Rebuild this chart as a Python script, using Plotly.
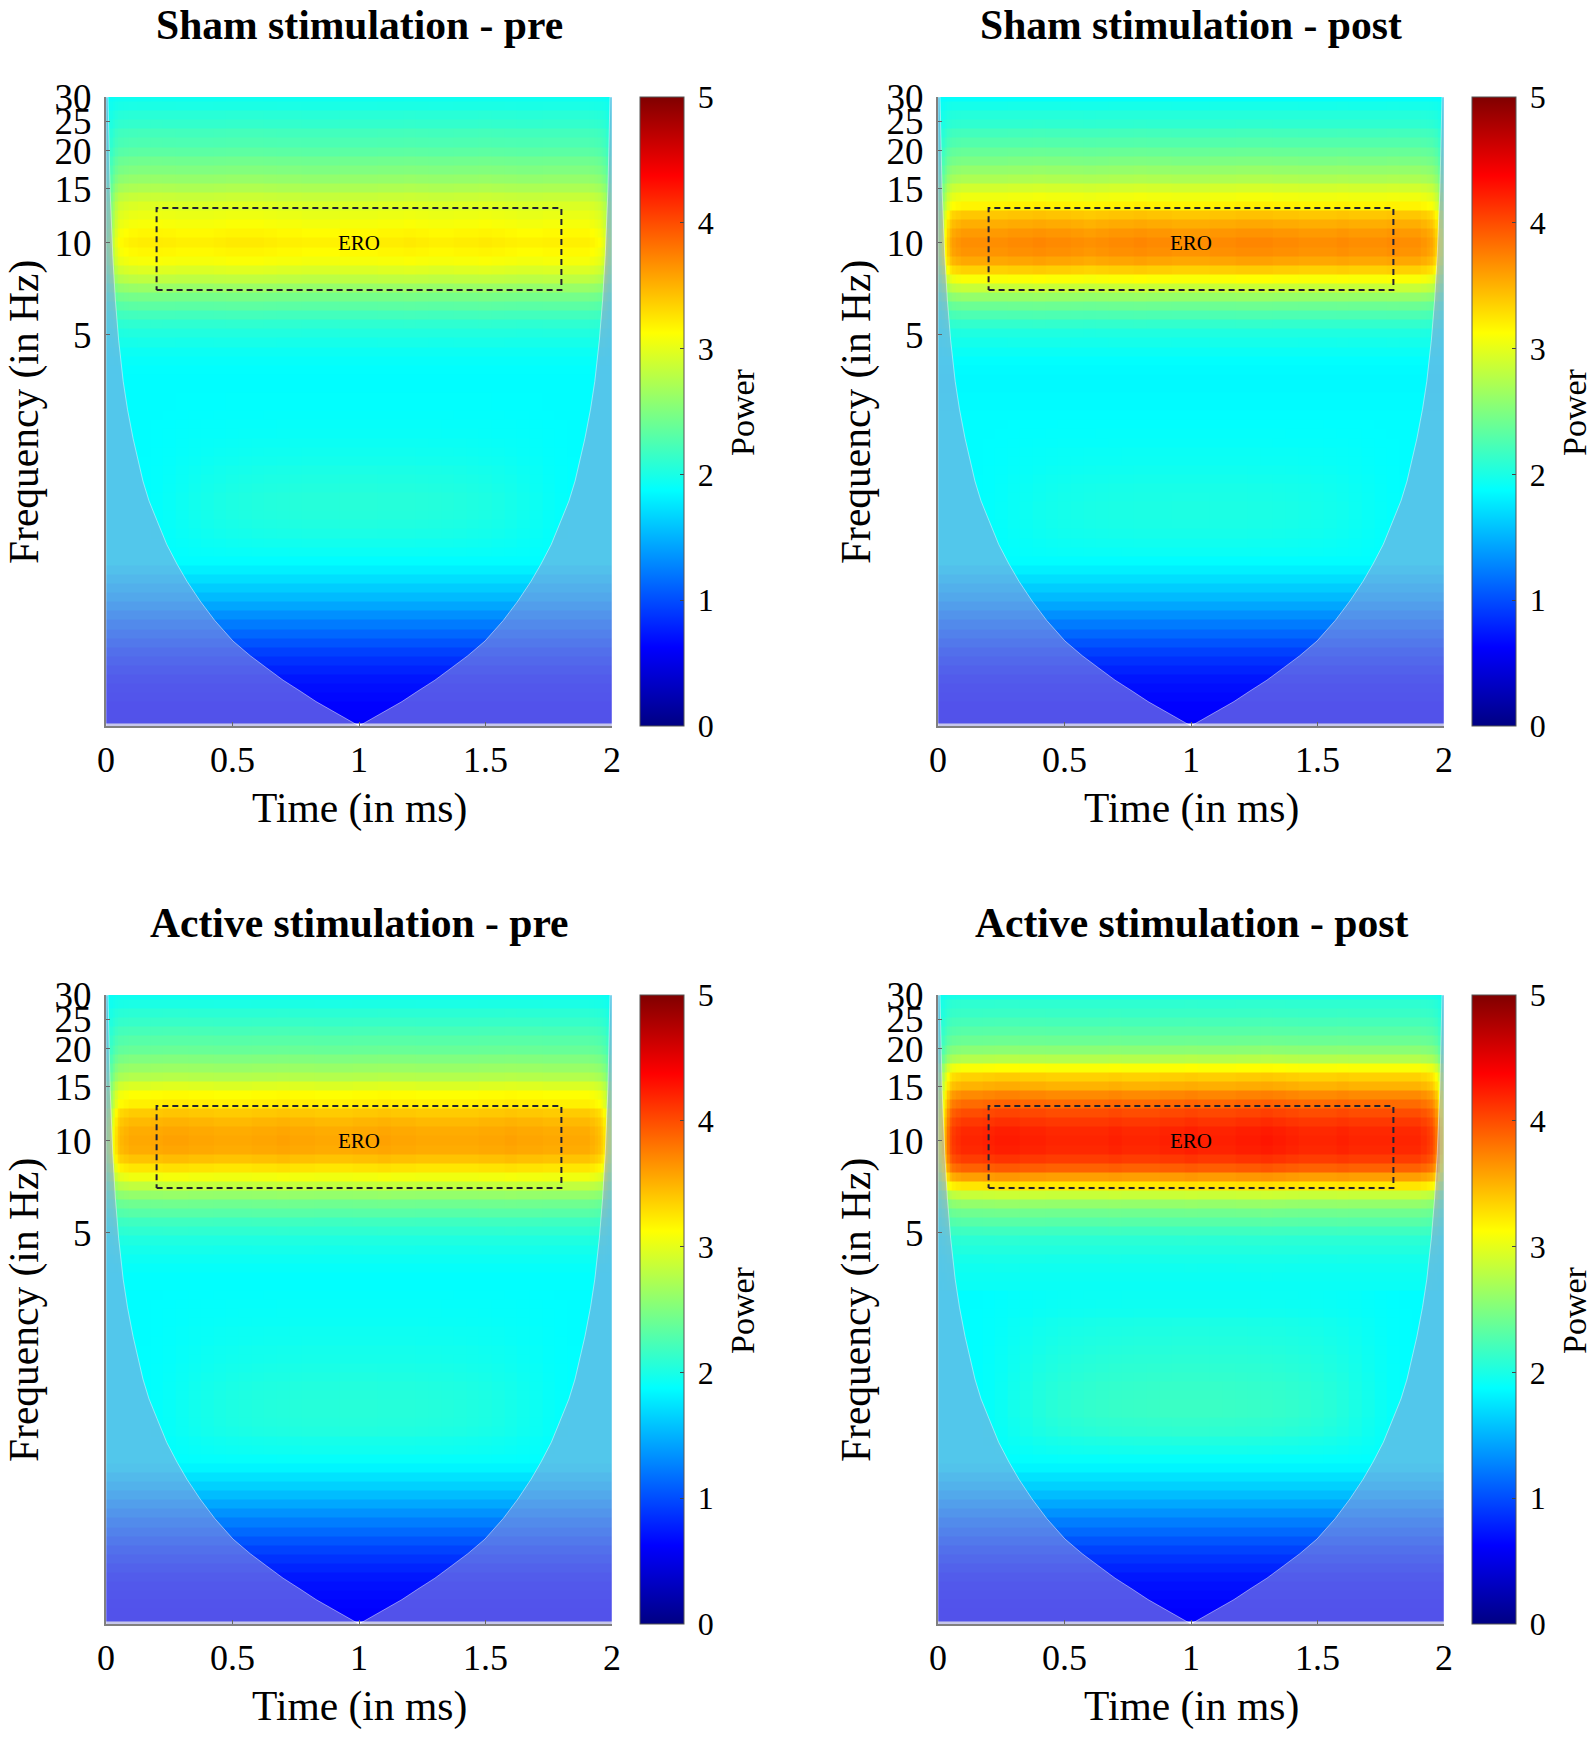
import numpy as np
import plotly.graph_objects as go

FAMILY = "Liberation Serif"
W, H = 1595, 1738

panel_titles = ["Sham stimulation - pre", "Sham stimulation - post",
                "Active stimulation - pre", "Active stimulation - post"]

# frequency rows, top of the plot first (Hz)
freq_rows = [30.0, 28.02, 26.16, 24.43, 22.81, 21.3, 19.89, 18.57, 17.34, 16.19,
             15.12, 14.12, 13.18, 12.31, 11.5, 10.73, 10.02, 9.36, 8.74, 8.161,
             7.62, 7.115, 6.644, 6.204, 5.793, 5.409, 5.051, 4.716, 4.404, 4.112,
             3.84, 3.585, 3.348, 3.126, 2.919, 2.725, 2.545, 2.376, 2.219, 2.072,
             1.935, 1.806, 1.687, 1.575, 1.471, 1.373, 1.282, 1.197, 1.118, 1.044,
             0.9748, 0.9102, 0.8499, 0.7936, 0.741, 0.6919, 0.6461, 0.6033, 0.5633, 0.526,
             0.4911, 0.4586, 0.4282, 0.3998, 0.3733, 0.3486, 0.3255, 0.304, 0.284, 0.272]

sham_pre = [1.95, 2.0, 2.07, 2.12, 2.2, 2.25, 2.32, 2.42, 2.5, 2.6,
            2.72, 2.85, 2.95, 3.02, 3.08, 3.15, 3.2, 3.15, 3.08, 2.95,
            2.8, 2.62, 2.45, 2.32, 2.2, 2.1, 2.03, 1.98, 1.93, 1.9,
            1.88, 1.87, 1.87, 1.88, 1.88, 1.89, 1.9, 1.91, 1.93, 1.95,
            1.97, 2.0, 2.02, 2.04, 2.06, 2.06, 2.05, 2.03, 2.0, 1.96,
            1.92, 1.87, 1.8, 1.72, 1.63, 1.54, 1.44, 1.33, 1.23, 1.13,
            1.03, 0.94, 0.86, 0.79, 0.73, 0.69, 0.66, 0.63, 0.61, 0.6]
sham_post = [1.9, 1.98, 2.05, 2.1, 2.2, 2.28, 2.38, 2.48, 2.6, 2.72,
             2.9, 3.05, 3.18, 3.4, 3.52, 3.62, 3.68, 3.65, 3.55, 3.35,
             3.1, 2.85, 2.6, 2.4, 2.25, 2.12, 2.02, 1.97, 1.92, 1.88,
             1.86, 1.85, 1.85, 1.86, 1.86, 1.87, 1.88, 1.89, 1.9, 1.92,
             1.93, 1.95, 1.97, 1.99, 2.0, 2.01, 2.01, 2.0, 1.98, 1.95,
             1.92, 1.87, 1.8, 1.72, 1.63, 1.54, 1.44, 1.33, 1.23, 1.13,
             1.03, 0.94, 0.86, 0.79, 0.73, 0.69, 0.66, 0.63, 0.61, 0.6]
active_pre = [1.95, 2.0, 2.08, 2.14, 2.22, 2.3, 2.38, 2.5, 2.62, 2.75,
              2.95, 3.12, 3.2, 3.38, 3.47, 3.53, 3.55, 3.53, 3.42, 3.25,
              3.05, 2.82, 2.6, 2.42, 2.3, 2.18, 2.1, 2.02, 1.97, 1.93,
              1.9, 1.88, 1.88, 1.89, 1.9, 1.91, 1.92, 1.94, 1.95, 1.97,
              1.98, 2.0, 2.02, 2.04, 2.05, 2.06, 2.06, 2.05, 2.03, 1.98,
              1.95, 1.9, 1.83, 1.74, 1.65, 1.55, 1.45, 1.34, 1.24, 1.14,
              1.04, 0.95, 0.87, 0.8, 0.74, 0.7, 0.67, 0.64, 0.62, 0.61]
active_post = [2.0, 2.1, 2.15, 2.22, 2.3, 2.4, 2.55, 2.75, 3.1, 3.35,
               3.5, 3.7, 3.85, 4.0, 4.1, 4.18, 4.2, 4.18, 4.08, 3.9,
               3.6, 3.25, 2.85, 2.6, 2.42, 2.3, 2.18, 2.08, 2.03, 1.98,
               1.95, 1.93, 1.92, 1.93, 1.94, 1.96, 2.0, 2.02, 2.04, 2.06,
               2.08, 2.1, 2.12, 2.14, 2.15, 2.16, 2.16, 2.13, 2.1, 2.03,
               1.97, 1.9, 1.83, 1.74, 1.65, 1.55, 1.45, 1.34, 1.24, 1.14,
               1.04, 0.95, 0.87, 0.8, 0.74, 0.7, 0.67, 0.64, 0.62, 0.61]
panel_power = [sham_pre, sham_post, active_pre, active_post]

time_cols = [0, 0.01, 0.02, 0.03, 0.04, 0.05, 0.06, 0.08, 0.1, 0.15, 0.2, 0.25, 0.3, 0.35, 0.4, 0.45, 0.5,
             0.55, 0.6, 0.65, 0.7, 0.75, 0.8, 0.85, 0.9, 0.95, 1.0, 1.05, 1.1, 1.15, 1.2, 1.25, 1.3, 1.35,
             1.4, 1.45, 1.5, 1.55, 1.6, 1.65, 1.7, 1.75, 1.8, 1.85, 1.9, 1.92, 1.94, 1.95, 1.96, 1.97, 1.98, 1.99, 2]

# how much of the band survives towards the edges, above about 3.3 Hz
edge_gain = [0.45, 0.5, 0.6, 0.72, 0.84, 0.92, 0.96, 0.98, 1, 1, 1, 1, 1, 1, 1, 1, 1,
             1, 1, 1, 1, 1, 1, 1, 1, 1, 1, 1, 1, 1, 1, 1, 1, 1,
             1, 1, 1, 1, 1, 1, 1, 1, 1, 1, 1, 0.98, 0.96, 0.94, 0.9, 0.84, 0.72, 0.6, 0.5]
# same thing for the slow rows, where the teal patch fades out towards the cone
low_gain = [0, 0, 0, 0, 0, 0, 0, 0, 0, 0.03, 0.1, 0.2, 0.33, 0.46, 0.58, 0.67, 0.75,
            0.81, 0.86, 0.9, 0.93, 0.95, 0.97, 0.98, 0.99, 1, 1, 1, 0.99, 0.98, 0.97, 0.95, 0.93, 0.9,
            0.86, 0.81, 0.75, 0.67, 0.58, 0.46, 0.33, 0.2, 0.1, 0.03, 0, 0, 0, 0, 0, 0, 0, 0, 0]
# small blobs along the ERO band in each panel
ripple_sham_pre = [0, 0, 0, 0, 0, 0, 0, 0, 0, 0.01, 0.015, 0.01, 0, 0, 0, 0.01, 0.02,
                   0.02, 0.02, 0.01, 0, 0, -0.01, -0.01, -0.01, 0, 0, 0, 0.01, 0.01, 0.02, 0.01, 0, 0,
                   0.01, 0.01, 0.02, 0.01, 0, -0.01, -0.01, 0, 0, 0, 0, 0, 0, 0, 0, 0, 0, 0, 0]
ripple_sham_post = [0, 0, 0, 0, 0, 0, 0, 0, 0, 0, 0, 0, 0.01, 0.01, 0.02, 0.01, 0.01,
                    0, -0.01, 0, 0.01, 0.01, 0.02, 0.01, 0.01, 0, 0, 0, 0.01, 0.01, 0.02, 0.02, 0.02, 0.01,
                    0.01, 0, 0, 0, 0.01, 0, 0, 0, 0.01, 0, 0, 0, 0, 0, 0, 0, 0, 0, 0]
ripple_active_pre = [0, 0, 0, 0, 0, 0, 0, 0, 0, 0, 0.01, 0.02, 0.02, 0.01, 0.01, 0, 0,
                     0, 0.01, 0.01, 0.02, 0.01, 0.01, 0, 0, 0, 0.01, 0.01, 0.02, 0.01, 0.01, 0, 0, 0,
                     0, 0, 0.01, 0.01, 0.02, 0.01, 0.01, 0, 0, 0, 0, 0, 0, 0, 0, 0, 0, 0, 0]
ripple_active_post = [0, 0, 0, 0, 0, 0, 0, 0, 0, 0, 0.01, 0.02, 0.02, 0.01, 0.01, 0, 0,
                      0, 0, 0, 0.01, 0, 0, 0, 0.01, 0.01, 0.02, 0.01, 0.01, 0.01, 0.02, 0.02, 0.03, 0.02, 0.01,
                      0, 0, 0, 0.01, 0, 0, 0, 0, 0, 0, 0, 0, 0, 0, 0, 0, 0, 0]
panel_ripple = [ripple_sham_pre, ripple_sham_post, ripple_active_pre, ripple_active_post]

# cone of influence edge, left half, (time, frequency)
cone_time = [1.0, 0.95, 0.897, 0.83, 0.767, 0.7, 0.636, 0.57, 0.502, 0.43, 0.372, 0.32, 0.281, 0.24, 0.202,
             0.17, 0.146, 0.125, 0.107, 0.085, 0.068, 0.05, 0.037, 0.027, 0.016, 0.008]
cone_freq = [0.262, 0.277, 0.293, 0.315, 0.341, 0.37, 0.405, 0.445, 0.497, 0.58, 0.672, 0.78, 0.887, 1.03, 1.23,
             1.43, 1.66, 1.95, 2.29, 2.85, 3.52, 4.8, 6.5, 9, 15, 30]

jet_colors = [[0, "rgb(0,0,131)"], [0.125, "rgb(0,0,255)"], [0.375, "rgb(0,255,255)"],
              [0.625, "rgb(255,255,0)"], [0.875, "rgb(255,0,0)"], [1, "rgb(128,0,0)"]]

y_ticks = [5, 10, 15, 20, 25, 30]
x_ticks = [0, 0.5, 1, 1.5, 2]
bar_ticks = [0, 1, 2, 3, 4, 5]

FLOOR = 1.87  # colour below which the edge fade does nothing

# pixel boxes of the panels
lefts = [106, 938, 106, 938]
tops = [97, 97, 995, 995]
PLOT_W, PLOT_H = 506, 629
BAR_GAP, BAR_W = 28, 44


def build_cells(power, ripple):
    cells = []
    for f, p in zip(freq_rows, power):
        row = []
        for j in range(len(time_cols)):
            gain = low_gain[j] if f < 3.3 else edge_gain[j] + ripple[j]
            row.append(p if p <= FLOOR else FLOOR + (p - FLOOR) * gain)
        cells.append(row)
    return cells


fig = go.Figure()
annotations = []

for k in range(4):
    ax = "" if k == 0 else str(k + 1)
    left, top = lefts[k], tops[k]

    fig.add_trace(go.Heatmap(
        x=time_cols, y=freq_rows, z=build_cells(panel_power[k], panel_ripple[k]),
        xaxis="x" + ax, yaxis="y" + ax,
        colorscale=jet_colors, zmin=0, zmax=5,
        colorbar=dict(
            x=(left + PLOT_W + BAR_GAP) / W, xanchor="left", xpad=0, ypad=0,
            y=1 - (top + PLOT_H) / H, yanchor="bottom", len=PLOT_H / H, lenmode="fraction",
            thickness=BAR_W, thicknessmode="pixels",
            outlinecolor="#555555", outlinewidth=1,
            ticks="inside", ticklen=4, tickcolor="#444444",
            tickmode="array", tickvals=bar_ticks,
            ticktext=["\u2009" + str(v) for v in bar_ticks],  # thin space pushes the labels off the bar
            tickfont=dict(family=FAMILY, size=32, color="black"),
        ),
    ))

    # muted area outside the cone of influence
    right_time = [2 - t for t in cone_time]
    fig.add_trace(go.Scatter(
        x=cone_time + [0, 0, None] + right_time + [2, 2],
        y=cone_freq + [30, 0.262, None] + cone_freq + [30, 0.262],
        xaxis="x" + ax, yaxis="y" + ax, mode="lines", fill="toself",
        fillcolor="rgba(152,152,218,0.54)",
        line=dict(color="rgba(255,255,255,0.45)", width=1),
        hoverinfo="skip", showlegend=False,
    ))

    # ERO window
    fig.add_trace(go.Scatter(
        x=[0.2, 1.8, 1.8, 0.2, 0.2], y=[7, 7, 13, 13, 7],
        xaxis="x" + ax, yaxis="y" + ax, mode="lines",
        line=dict(color="#222233", width=2, dash="6px,4px"),
        hoverinfo="skip", showlegend=False,
    ))

    fig.update_layout({
        "xaxis" + ax: dict(
            domain=[left / W, (left + PLOT_W) / W], anchor="y" + ax, range=[0, 2],
            tickmode="array", tickvals=x_ticks, ticktext=["0", "0.5", "1", "1.5", "2"],
            ticks="inside", ticklen=4, tickcolor="#666666",
            showline=True, linecolor="#808080", linewidth=2,
            showgrid=False, zeroline=False, ticklabelstandoff=1,
            tickfont=dict(family=FAMILY, size=36, color="black"),
        ),
        "yaxis" + ax: dict(
            domain=[1 - (top + PLOT_H) / H, 1 - top / H], anchor="x" + ax, type="log",
            range=[np.log10(0.262), np.log10(30)],
            tickmode="array", tickvals=y_ticks, ticktext=[str(v) for v in y_ticks],
            ticks="inside", ticklen=4, tickcolor="#666666",
            showline=True, linecolor="#808080", linewidth=2,
            showgrid=False, zeroline=False, ticklabelstandoff=5,
            tickfont=dict(family=FAMILY, size=37, color="black"),
        ),
    })

    # titles and labels, placed by hand
    cx = left + PLOT_W / 2
    text_font = dict(family=FAMILY, color="black")
    annotations += [
        dict(text="<b>%s</b>" % panel_titles[k], x=cx / W, y=1 - (top - 72) / H, xref="paper", yref="paper",
             font=dict(text_font, size=41.6)),
        dict(text="Time (in ms)", x=cx / W, y=1 - (top + PLOT_H + 82) / H, xref="paper", yref="paper",
             font=dict(text_font, size=41.5)),
        dict(text="Frequency (in Hz)", x=(left - 82) / W, y=1 - (top + 315) / H, xref="paper", yref="paper",
             font=dict(text_font, size=41.5), textangle=-90),
        dict(text="Power", x=(left + PLOT_W + 130) / W, y=1 - (top + 315) / H, xref="paper", yref="paper",
             font=dict(text_font, size=34), textangle=-90),
        dict(text="ERO", x=1, y=1, xref="x" + ax, yref="y" + ax, font=dict(text_font, size=21)),
    ]

for a in annotations:
    a.update(showarrow=False, xanchor="center", yanchor="middle")

fig.update_layout(
    width=W, height=H,
    margin=dict(l=0, r=0, t=0, b=0, autoexpand=False),
    paper_bgcolor="white", plot_bgcolor="white",
    showlegend=False,
    annotations=annotations,
)

fig.write_html("out.html", config={"displayModeBar": False},
               post_script="document.body.style.margin='0';")
